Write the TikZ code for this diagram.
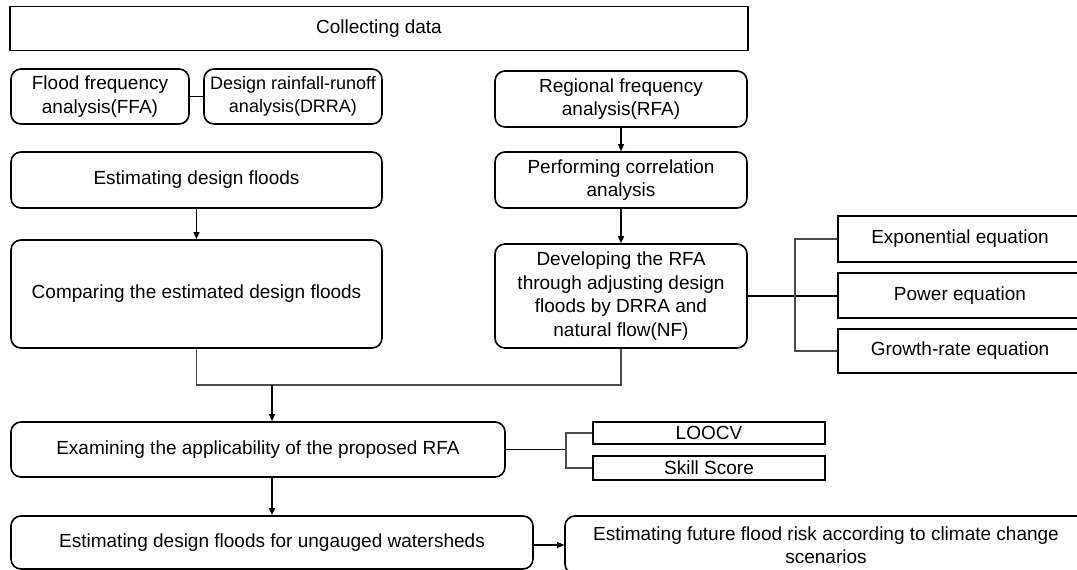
\documentclass[tikz,border=0pt]{standalone}
\usepackage{fontspec}
\setmainfont{Liberation Sans}
\usetikzlibrary{arrows.meta}
\begin{document}
\begin{tikzpicture}[x=1pt,y=-1pt,
  box/.style={draw=black,line width=1.6pt,inner sep=0pt,align=center,
    font=\fontsize{19}{23.5}\selectfont},
  rbox/.style={box,rounded corners=10pt},
  conn/.style={line width=1.1pt,black},
  graylink/.style={line width=1.1pt,black!70},
  arr/.style={conn,-{Triangle[length=7pt,width=6pt]}}]
\clip (0,0) rectangle (1077,570);
\useasboundingbox (0,0) rectangle (1077,570);
\fill[white] (0,0) rectangle (1077,570);

\node[box,minimum width=738pt,minimum height=44pt] (data) at (379,28.5) {Collecting data};
\node[rbox,minimum width=178pt,minimum height=55pt] (ffa) at (100,96.5) {Flood frequency\\analysis(FFA)};
\node[rbox,minimum width=178pt,minimum height=55pt,font=\fontsize{18}{23.5}\selectfont] (drra) at (293,96.5) {Design rainfall-runoff\\analysis(DRRA)};
\node[rbox,minimum width=252pt,minimum height=56pt] (rfa) at (621,99) {Regional frequency\\analysis(RFA)};
\node[rbox,minimum width=371pt,minimum height=56pt] (edf) at (196.5,180) {Estimating design floods};
\node[rbox,minimum width=252pt,minimum height=56pt] (pca) at (621,180) {Performing correlation\\analysis};
\node[rbox,minimum width=371pt,minimum height=108pt] (cmp) at (196.5,294) {Comparing the estimated design floods};
\node[rbox,minimum width=252pt,minimum height=104pt] (dev) at (621,296) {Developing the RFA\\through adjusting design\\floods by DRRA and\\natural flow(NF)};
\node[box,minimum width=244pt,minimum height=46pt] (exp) at (960,239) {Exponential equation};
\node[box,minimum width=244pt,minimum height=45pt] (pow) at (960,295.5) {Power equation};
\node[box,minimum width=244pt,minimum height=44pt] (grw) at (960,351) {Growth-rate equation};
\node[rbox,minimum width=494pt,minimum height=55pt] (exa) at (258,449.5) {Examining the applicability of the proposed RFA};
\node[box,minimum width=232pt,minimum height=22pt] (loo) at (709,433) {LOOCV};
\node[box,minimum width=232pt,minimum height=24pt] (skl) at (709,468) {Skill Score};
\node[rbox,minimum width=522pt,minimum height=53pt] (ung) at (272,542.5) {Estimating design floods for ungauged watersheds};
\node[rbox,minimum width=522pt,minimum height=58pt] (fut) at (826,545) {Estimating future flood risk according to climate change\\scenarios};

\coordinate (j) at (272,385);
\coordinate (b1) at (795,0);
\coordinate (b2) at (566,0);

\draw[conn] (ffa.east) -- (drra.west);
\draw[arr] (edf.south) -- (cmp.north);
\draw[arr] (rfa.south) -- (pca.north);
\draw[arr] (pca.south) -- (dev.north);
\draw[graylink] (cmp.south) |- (j) -| (dev.south);
\draw[arr] (j) -- (j |- exa.north);
\draw[arr] (exa.south -| j) -- (ung.north);
\draw[arr] (fut.west -| ung.east) -- (fut.west);
\draw[conn] (dev.east) -- (dev.east -| pow.west);
\draw[graylink] (exp.west) -| (b1 |- dev.east) |- (grw.west);
\draw[conn] (exa.east) -- (exa.east -| b2);
\draw[graylink] (loo.west) -| (b2 |- exa.east) |- (skl.west);
\end{tikzpicture}
\end{document}
